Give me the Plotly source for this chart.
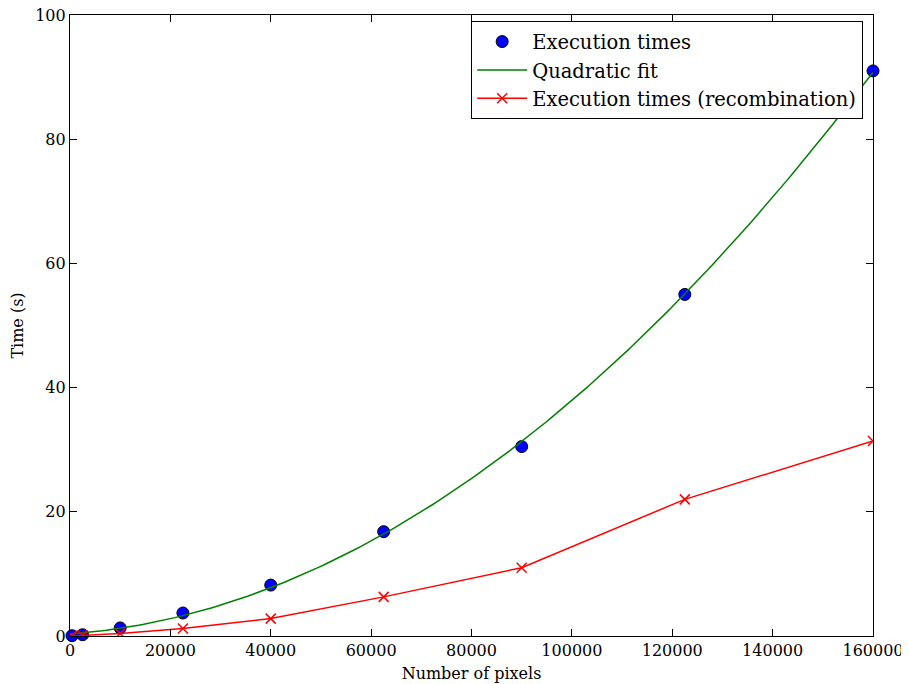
import numpy as np
import plotly.graph_objects as go

pixels = [400, 2500, 10000, 22500, 40000, 62500, 90000, 122500, 160000]
times = [0.05, 0.2, 1.3, 3.7, 8.2, 16.8, 30.5, 55.0, 91.0]
times_recomb = [0.02, 0.1, 0.4, 1.2, 2.8, 6.3, 11.0, 22.0, 31.4]

x_ticks = [0, 20000, 40000, 60000, 80000, 100000, 120000, 140000, 160000]
y_ticks = [0, 20, 40, 60, 80, 100]

# quadratic fit of the measured execution times
coef = np.polyfit(pixels, times, 2)
fit_x = np.linspace(0, 160000, 200)
fit_y = np.polyval(coef, fit_x)

font = "DejaVu Serif"

fig = go.Figure()
fig.add_trace(go.Scatter(
    x=pixels, y=times, mode="markers", name="Execution times",
    marker=dict(color="#0000ff", size=12, line=dict(color="black", width=1)),
    cliponaxis=False,
))
fig.add_trace(go.Scatter(
    x=fit_x, y=fit_y, mode="lines", name="Quadratic fit",
    line=dict(color="#008000", width=1.5),
))
fig.add_trace(go.Scatter(
    x=pixels, y=times_recomb, mode="lines+markers",
    name="Execution times (recombination)",
    line=dict(color="#ff0000", width=1.5),
    marker=dict(symbol="x-thin", size=10, line=dict(color="#ff0000", width=1.5)),
))

axis_common = dict(
    showgrid=False, zeroline=False, showline=True, linecolor="black",
    linewidth=1.2, mirror="ticks", ticks="inside", ticklen=7,
    tickcolor="black", tickwidth=1, automargin=False,
    ticklabeloverflow="allow",
    tickfont=dict(family=font, size=16, color="black"),
)

# page body adds an 8px offset, so the figure is sized to fit the window
fig.update_layout(
    width=901, height=676,
    margin=dict(l=62, r=36, t=7, b=48),
    paper_bgcolor="white", plot_bgcolor="white",
    font=dict(family=font, color="black"),
    showlegend=True,
    legend=dict(
        x=0.9875, y=0.99, xanchor="right", yanchor="top",
        bordercolor="black", borderwidth=1.2, bgcolor="white",
        font=dict(family=font, size=19.5, color="black"),
        itemwidth=50, tracegroupgap=0,
    ),
    xaxis=dict(
        range=[0, 160000], tickvals=x_ticks, tickformat="d",
        title=dict(text="Number of pixels", font=dict(family=font, size=16), standoff=8),
        **axis_common,
    ),
    yaxis=dict(
        range=[0, 100], tickvals=y_ticks,
        title=dict(text="Time (s)", font=dict(family=font, size=16), standoff=14),
        **axis_common,
    ),
)

fig.write_html("out.html")
